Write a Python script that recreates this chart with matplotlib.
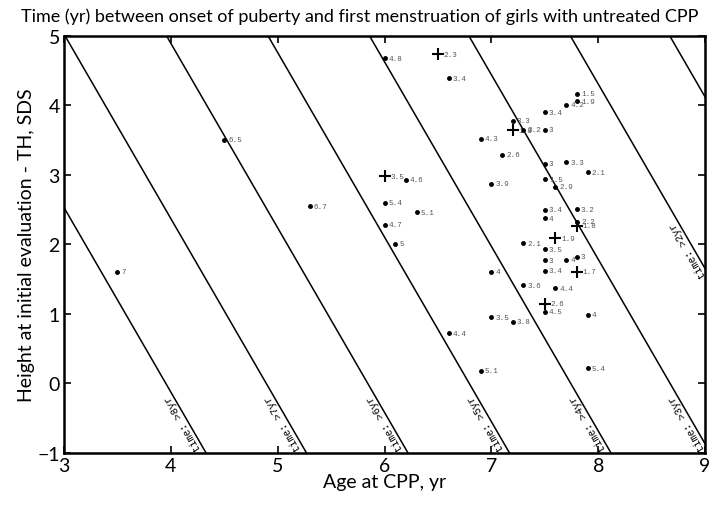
import numpy as np
import matplotlib
matplotlib.use("Agg")
import matplotlib.pyplot as plt

# girls with untreated CPP: age at CPP (yr), height SDS, label = time (yr)
dot_age = [4.5, 3.5, 6.0, 6.6, 6.9, 6.2, 5.3, 6.0, 6.3, 6.0, 6.1, 7.0, 7.0, 7.0,
           6.6, 6.9, 7.8, 7.8, 7.7, 7.5, 7.2, 7.3, 7.5, 7.1, 7.5, 7.7, 7.9, 7.5,
           7.6, 7.5, 7.8, 7.5, 7.8, 7.3, 7.5, 7.5, 7.7, 7.8, 7.5, 7.3, 7.6, 7.5,
           7.9, 7.2, 7.9]
dot_height = [3.51, 1.61, 4.68, 4.39, 3.52, 2.93, 2.55, 2.60, 2.46, 2.28, 2.01,
              2.87, 1.61, 0.95, 0.72, 0.18, 4.17, 4.06, 4.01, 3.90, 3.78, 3.65,
              3.65, 3.29, 3.16, 3.18, 3.04, 2.94, 2.83, 2.50, 2.51, 2.38, 2.33,
              2.02, 1.93, 1.77, 1.78, 1.82, 1.62, 1.41, 1.37, 1.03, 0.99, 0.89,
              0.22]
dot_label = ["6.5", "7", "4.8", "3.4", "4.3", "4.6", "6.7", "5.4", "5.1", "4.7",
             "5", "3.9", "4", "3.5", "4.4", "5.1", "1.5", "1.9", "4.2", "3.4",
             "3.3", "3.2", "3", "2.6", "3", "3.3", "2.1", "1.5", "2.9", "3.4",
             "3.2", "4", "2.2", "2.1", "3.5", "3", "4", "3", "3.4", "3.6", "4.4",
             "4.5", "4", "3.8", "5.4"]

cross_age = [6.5, 6.0, 7.2, 7.8, 7.6, 7.8, 7.5]
cross_height = [4.74, 2.98, 3.64, 2.27, 2.09, 1.61, 1.15]
cross_label = ["2.3", "3.5", "1.8", "1.8", "1.9", "1.7", "2.6"]

# iso-time lines: age where the line meets height 5 and height -1
line_time = [8, 7, 6, 5, 4, 3, 2, 1]
line_age_top = [2.07, 3.01, 3.96, 4.91, 5.86, 6.79, 7.74, 8.67]
line_age_bottom = [4.33, 5.27, 6.22, 7.17, 8.12, 9.05, 10.0, 10.93]

sans = ['Lato', 'DejaVu Sans']
mono = ['Liberation Mono', 'DejaVu Sans Mono']

fig = plt.figure(figsize=(7.2, 5.06), dpi=100)
ax = fig.add_axes([0.0889, 0.1028, 0.8903, 0.8242])
ax.set_xlim(3, 9)
ax.set_ylim(-1, 5)

slope = []
for t, a0, a1 in zip(line_time, line_age_top, line_age_bottom):
    ax.plot([a0, a1], [5, -1], color='black', lw=1.1)
    slope.append((5 - (-1)) / (a0 - a1))

# angle of the lines on screen
p0 = ax.transData.transform((line_age_top[1], 5))
p1 = ax.transData.transform((line_age_bottom[1], -1))
ang = np.degrees(np.arctan2(p0[1] - p1[1], p0[0] - p1[0]))

for t, a0, a1, s in zip(line_time, line_age_top, line_age_bottom, slope):
    # label where the line leaves the box at the lower end
    if a1 <= 9.06:
        ys = -0.92
    else:
        ys = 5 + s * (9 - a0) - 0.08
    if ys > 2.5:
        continue
    xs = a0 + (ys - 5) / s
    ax.text(xs, ys, 'time: >%dyr' % t, rotation=ang, rotation_mode='anchor',
            ha='left', va='bottom', fontsize=7.5, family=mono, color='black',
            clip_on=False)

ax.plot(dot_age, dot_height, '.', color='black', ms=5)
ax.plot(cross_age, cross_height, '+', color='black', ms=8, mew=1.5)
for x, y, s in zip(dot_age, dot_height, dot_label):
    ax.annotate(s, (x, y), xytext=(3, 0), textcoords='offset points',
                fontsize=5.5, family=mono, color='#555555', va='center')
for x, y, s in zip(cross_age, cross_height, cross_label):
    ax.annotate(s, (x, y), xytext=(4, 0), textcoords='offset points',
                fontsize=5.5, family=mono, color='#555555', va='center')

ax.set_xticks(range(3, 10))
ax.set_yticks(range(-1, 6))
ax.tick_params(direction='in', top=True, right=True, length=5, width=1.2,
               labelsize=14, pad=3)
for lab in ax.get_xticklabels() + ax.get_yticklabels():
    lab.set_family(sans)
for sp in ax.spines.values():
    sp.set_linewidth(1.8)

ax.set_xlabel('Age at CPP, yr', fontsize=14, family=sans, labelpad=-1)
ax.set_ylabel('Height at initial evaluation - TH, SDS', fontsize=14,
              family=sans, labelpad=2)
fig.text(0.5, 0.966, 'Time (yr) between onset of puberty and first menstruation'
         ' of girls with untreated CPP', ha='center', va='center',
         fontsize=13, family=sans)

fig.savefig('out.png', dpi=100)
